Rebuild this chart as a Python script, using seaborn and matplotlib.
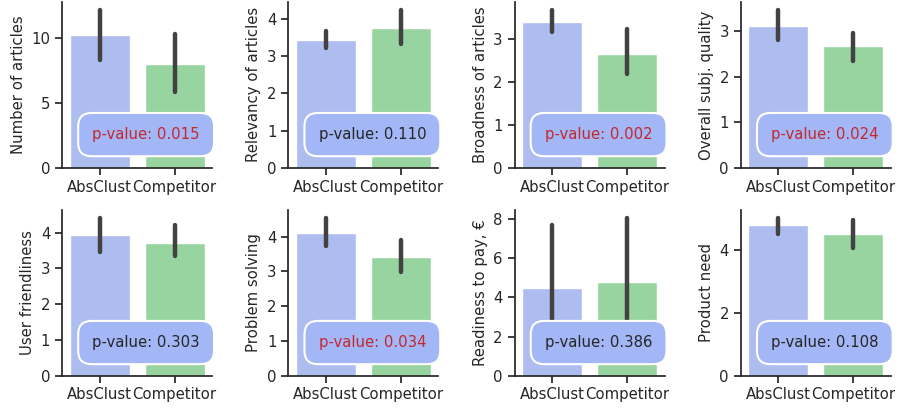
import matplotlib
matplotlib.use("Agg")
import matplotlib.pyplot as plt
import seaborn as sns
import pandas as pd

groups = ["AbsClust", "Competitor"]
metrics = ["Number of articles", "Relevancy of articles", "Broadness of articles",
           "Overall subj. quality", "User friendliness", "Problem solving",
           "Readiness to pay, €", "Product need"]
absclust_mean = [10.25, 3.44, 3.39, 3.11, 3.92, 4.11, 4.46, 4.80]
absclust_low = [8.36, 3.22, 3.16, 2.80, 3.47, 3.73, 1.50, 4.52]
absclust_high = [12.2, 3.68, 3.68, 3.46, 4.41, 4.54, 7.73, 5.04]
competitor_mean = [8.02, 3.76, 2.65, 2.67, 3.72, 3.42, 4.80, 4.54]
competitor_low = [5.87, 3.32, 2.19, 2.35, 3.35, 2.97, 1.60, 4.09]
competitor_high = [10.36, 4.24, 3.23, 2.95, 4.20, 3.90, 8.07, 4.97]
p_values = [0.015, 0.110, 0.002, 0.024, 0.303, 0.034, 0.386, 0.108]

sns.set_theme(style="ticks")
plt.rcParams["font.family"] = ["DejaVu Sans"]
FS = 10.7

bar_colors = ["#aebdf0", "#98d4a0"]

fig, axes = plt.subplots(2, 4, figsize=(8.99, 4.09), dpi=100)
fig.subplots_adjust(left=0.069, right=0.991, top=0.995, bottom=0.0815,
                    wspace=0.507, hspace=0.255)

for i, ax in enumerate(axes.flat):
    df = pd.DataFrame({"group": groups,
                       "value": [absclust_mean[i], competitor_mean[i]]})
    sns.barplot(data=df, x="group", y="value", hue="group", palette=bar_colors,
                errorbar=None, legend=False, ax=ax, saturation=1, width=0.8)
    lows = [absclust_low[i], competitor_low[i]]
    highs = [absclust_high[i], competitor_high[i]]
    ax.vlines([0, 1], lows, highs, color="#424242", linewidth=3.2,
              capstyle="round", zorder=3)
    ax.set_xlabel("")
    ax.set_ylabel(metrics[i], fontsize=FS, color="#262626")
    ax.tick_params(axis="both", labelsize=FS, colors="#262626", length=5)
    ax.set_xlim(-0.5, 1.5)
    ax.set_ylim(0, None)
    ax.autoscale(axis="y")
    ax.set_ylim(bottom=0)
    p = p_values[i]
    col = "#c4282c" if p < 0.05 else "#262626"
    ax.text(0.56, 0.2, f"p-value: {p:.3f}", transform=ax.transAxes,
            ha="center", va="center", fontsize=FS, color=col, zorder=5,
            bbox=dict(boxstyle="round,pad=0.95,rounding_size=0.9",
                      facecolor="#a3b6f6", edgecolor="white", linewidth=1.5))
    sns.despine(ax=ax)

axes[1, 2].set_yticks([0, 2, 4, 6, 8])
fig.savefig("out.png", dpi=100)
